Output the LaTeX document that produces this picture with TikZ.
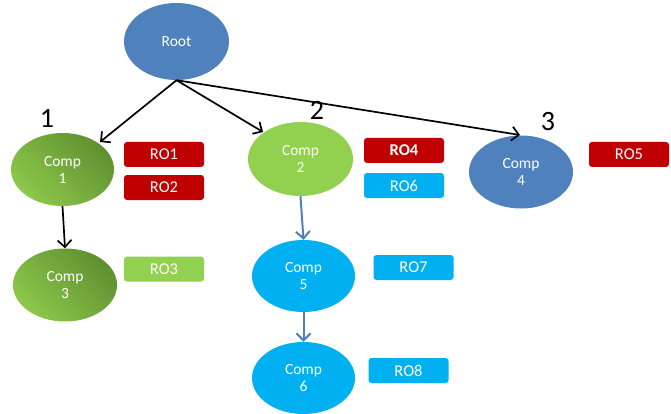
\documentclass[tikz,border=0pt]{standalone}
\usepackage{fontspec}
\setmainfont{Carlito}
\usetikzlibrary{shapes.geometric,arrows.meta}
\definecolor{rootblue}{HTML}{4F81BD}
\definecolor{cyanblue}{HTML}{00B0F0}
\definecolor{lgreen}{HTML}{92D050}
\definecolor{dgreen}{HTML}{5F9030}
\definecolor{mgreen}{HTML}{8CC84B}
\definecolor{rored}{HTML}{C00000}
\tikzset{
  ell/.style={ellipse, minimum width=104pt, minimum height=73pt, inner sep=0pt, text=white, align=center, font=\fontsize{15.5}{17}\selectfont},
  gradgreen/.style={ell, shading=axis, top color=dgreen, bottom color=mgreen, shading angle=-45},
  robox/.style={rounded corners=3pt, minimum width=80pt, minimum height=25pt, inner sep=0pt, text=white, font=\fontsize{16.5}{18}\selectfont},
  num/.style={font=\fontsize{28}{30}\selectfont, inner sep=0pt},
  blk/.style={draw=black, line width=1.7pt, -{Straight Barb[length=7pt,width=14pt,line width=1.7pt]}},
  blu/.style={draw=rootblue, line width=2pt, -{Straight Barb[length=7pt,width=14pt,line width=2pt]}}
}
\begin{document}
\begin{tikzpicture}[x=1pt,y=-1pt]
\useasboundingbox (0,0) rectangle (671,414);
\node[ell, fill=rootblue, minimum width=105pt, minimum height=77pt] (root) at (176.5,41.5) {Root};
\node[gradgreen, minimum width=103pt] (c1) at (62.5,169.5) {Comp\\1};
\node[gradgreen] (c3) at (65,285) {Comp\\3};
\node[ell, fill=lgreen, minimum width=105pt, minimum height=74pt] (c2) at (300.5,159) {Comp\\2};
\node[ell, fill=rootblue] (c4) at (521,172) {Comp\\4};
\node[ell, fill=cyanblue, minimum width=103pt, minimum height=72pt] (c5) at (303.5,276) {Comp\\5};
\node[ell, fill=cyanblue, minimum width=103pt, minimum height=72pt] (c6) at (303.5,378) {Comp\\6};

\node[robox, fill=rored] (ro1) at (164,154.5) {RO1};
\node[robox, fill=rored] (ro2) at (164,187.5) {RO2};
\node[robox, fill=lgreen] (ro3) at (164,269) {RO3};
\node[robox, fill=rored, font=\fontsize{16.5}{18}\selectfont\bfseries] (ro4) at (404,150.5) {RO4};
\node[robox, fill=cyanblue] (ro6) at (404,185.5) {RO6};
\node[robox, fill=rored] (ro5) at (629,154.5) {RO5};
\node[robox, fill=cyanblue] (ro7) at (413.5,267.5) {RO7};
\node[robox, fill=cyanblue] (ro8) at (408.5,370.5) {RO8};

\node[num] (n1) at (47,118) {1};
\node[num] (n2) at (317,110) {2};
\node[num] (n3) at (548,122) {3};

\coordinate (rs) at (root.south);
\coordinate (t1) at (100,142);
\coordinate (t2) at (263,132);
\coordinate (t4) at (520,135);
\draw[blk] (rs) -- (t1);
\draw[blk] (rs) -- (t2);
\draw[blk] (rs) -- (t4);
\draw[blk] (c1.south) -- (c3.north);
\draw[blu] (c2.south) -- (c5.north);
\draw[blu] (c5.south) -- (c6.north);
\end{tikzpicture}
\end{document}
